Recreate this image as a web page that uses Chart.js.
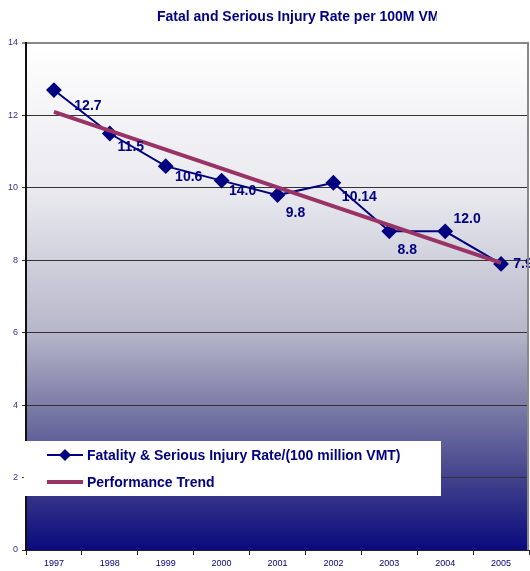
<!DOCTYPE html>
<html lang="en">
<head>
  <meta charset="UTF-8" />
  <title>Fatal and Serious Injury Rate</title>
  <script src="https://cdn.jsdelivr.net/npm/chart.js"></script>
  <style>
    body { margin: 0; background: #fff; }
    #wrap { width: 530px; height: 571px; }
  </style>
</head>
<body>
  <div id="wrap"><canvas id="chart" width="530" height="571"></canvas></div>

  <script>
    const years = ["1997", "1998", "1999", "2000", "2001", "2002", "2003", "2004", "2005"];
    const injuryRate = [12.7, 11.5, 10.6, 10.2, 9.8, 10.14, 8.8, 8.8, 7.9];
    const pointLabels = ["12.7", "11.5", "10.6", "14.0", "9.8", "10.14", "8.8", "12.0", "7.9"];
    const trend = [12.1, null, null, null, null, null, null, null, 7.93];
    const yTicks = [0, 2, 4, 6, 8, 10, 12, 14];

    const NAVY = "#000080";
    const MAROON = "#993366";
    const FONT = "'Liberation Sans', Arial, sans-serif";

    // where each value label sits relative to its point
    const labelOffsets = [[34, 16], [21, 14], [23, 11], [21, 11], [18, 18], [26, 14], [18, 19], [22, -12], [22, 0]];

    const backdrop = {
      id: "backdrop",
      beforeDraw(chart) {
        const { ctx, chartArea: a } = chart;
        const g = ctx.createLinearGradient(0, a.top, 0, a.bottom);
        g.addColorStop(0, "#ffffff");
        g.addColorStop(0.3, "#e8e8ee");
        g.addColorStop(0.57, "#b6b7ca");
        g.addColorStop(0.71, "#7f7fa7");
        g.addColorStop(0.86, "#41418c");
        g.addColorStop(1, "#0a0a7e");
        ctx.save();
        ctx.fillStyle = g;
        ctx.fillRect(a.left, a.top, a.right - a.left, a.bottom - a.top);
        ctx.restore();
      },
      afterDraw(chart) {
        const { ctx, chartArea: a } = chart;
        ctx.save();
        // right border
        ctx.strokeStyle = "#888";
        ctx.lineWidth = 2;
        ctx.beginPath();
        ctx.moveTo(a.right - 1, a.top);
        ctx.lineTo(a.right - 1, a.bottom);
        ctx.stroke();

        // title (cut off at the right, as in the original)
        ctx.save();
        ctx.beginPath();
        ctx.rect(0, 0, 437, 40);
        ctx.clip();
        ctx.fillStyle = NAVY;
        ctx.font = "bold 14px " + FONT;
        ctx.textAlign = "left";
        ctx.textBaseline = "middle";
        ctx.fillText("Fatal and Serious Injury Rate per 100M VMT", 157, 17);
        ctx.restore();

        // legend box
        ctx.fillStyle = "#fff";
        ctx.fillRect(24, 441, 417, 55);
        const ds = chart.data.datasets;
        const rows = [
          { d: ds[1], y: 455, marker: true },
          { d: ds[0], y: 482, marker: false }
        ];
        ctx.font = "bold 14px " + FONT;
        ctx.textAlign = "left";
        ctx.textBaseline = "middle";
        rows.forEach(r => {
          ctx.strokeStyle = r.d.borderColor;
          ctx.lineWidth = r.marker ? 2 : 4;
          ctx.beginPath();
          ctx.moveTo(47, r.y);
          ctx.lineTo(83, r.y);
          ctx.stroke();
          if (r.marker) {
            ctx.fillStyle = NAVY;
            ctx.beginPath();
            ctx.moveTo(65, r.y - 6);
            ctx.lineTo(71, r.y);
            ctx.lineTo(65, r.y + 6);
            ctx.lineTo(59, r.y);
            ctx.closePath();
            ctx.fill();
          }
          ctx.fillStyle = NAVY;
          ctx.fillText(r.d.label, 87, r.y + 1);
        });
        ctx.restore();
      },
      afterDatasetsDraw(chart) {
        const { ctx } = chart;
        const meta = chart.getDatasetMeta(1);
        ctx.save();
        ctx.fillStyle = NAVY;
        ctx.font = "bold 14px " + FONT;
        ctx.textAlign = "center";
        ctx.textBaseline = "middle";
        meta.data.forEach((pt, i) => {
          const [dx, dy] = labelOffsets[i];
          ctx.fillText(pointLabels[i], pt.x + dx, pt.y + dy);
        });
        ctx.restore();
      }
    };

    new Chart(document.getElementById("chart"), {
      type: "line",
      data: {
        labels: years,
        datasets: [
          {
            label: "Performance Trend",
            data: trend,
            borderColor: MAROON,
            borderWidth: 4,
            pointRadius: 0,
            spanGaps: true,
            order: 0
          },
          {
            label: "Fatality & Serious Injury Rate/(100 million VMT)",
            data: injuryRate,
            borderColor: NAVY,
            backgroundColor: NAVY,
            borderWidth: 2,
            pointStyle: "rectRot",
            pointRadius: 6.5,
            pointHoverRadius: 6.5,
            order: 1
          }
        ]
      },
      options: {
        responsive: false,
        animation: false,
        layout: { autoPadding: false, padding: { top: 43, right: 1, left: 0, bottom: 0 } },
        plugins: {
          legend: { display: false },
          title: { display: false },
          tooltip: { enabled: false }
        },
        scales: {
          x: {
            offset: true,
            grid: { offset: true, drawOnChartArea: false, tickLength: 5, color: "#222" },
            border: { color: "#222", width: 1 },
            ticks: { color: NAVY, font: { family: FONT, size: 9 }, padding: 3, maxRotation: 0 },
            afterFit(s) { s.height = 21; s.paddingLeft = 0; s.paddingRight = 0; }
          },
          y: {
            min: 0,
            max: 14,
            afterBuildTicks(s) { s.ticks = yTicks.map(v => ({ value: v })); },
            grid: {
              tickLength: 4,
              color: c => (c.tick && c.tick.value === 14 ? "#888" : "#333"),
              lineWidth: c => (c.tick && c.tick.value === 14 ? 2 : 1)
            },
            border: { color: "#111", width: 2 },
            ticks: { color: "#333399", font: { family: FONT, size: 9 }, padding: 4 },
            afterFit(s) { s.width = 26; s.paddingTop = 0; s.paddingBottom = 0; }
          }
        }
      },
      plugins: [backdrop]
    });
  </script>
</body>
</html>
